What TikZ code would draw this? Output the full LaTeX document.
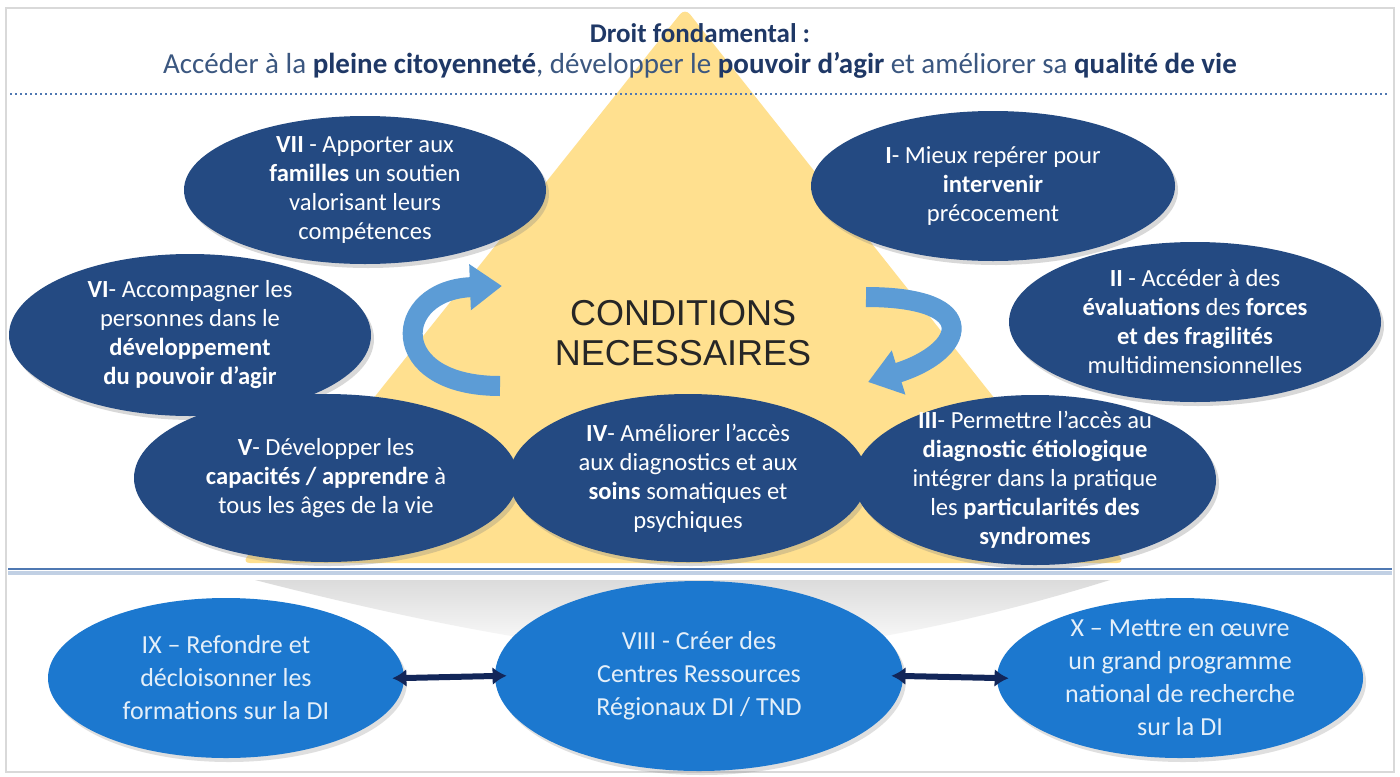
\documentclass[tikz,border=0pt]{standalone}
\usepackage{fontspec}
\setmainfont{Carlito}
\newfontfamily\condfont{Liberation Sans}
\usetikzlibrary{arrows.meta,shapes.geometric,shadows}
\definecolor{TitleClr}{rgb}{0.12,0.22,0.4}
\definecolor{SubClr}{rgb}{0.23,0.34,0.5}
\definecolor{NavyClr}{rgb}{0.14,0.29,0.51}
\definecolor{BlueClr}{rgb}{0.11,0.47,0.81}
\definecolor{ArrowClr}{rgb}{0.36,0.61,0.84}
\definecolor{TriClr}{rgb}{1,0.88,0.56}
\definecolor{RuleClr}{rgb}{0.31,0.47,0.7}
\definecolor{LinkClr}{rgb}{0.07,0.15,0.35}
\newcommand{\fort}[1]{\textbf{\color{TitleClr}#1}}

\begin{document}
\begin{tikzpicture}[x=0.5pt,y=-0.5pt,
  bulle/.style={ellipse,fill=NavyClr,inner sep=0pt,
    drop shadow={shadow xshift=1.5pt,shadow yshift=-2pt,opacity=.3}},
  bullebas/.style={ellipse,fill=BlueClr,inner sep=0pt,
    drop shadow={shadow xshift=1.5pt,shadow yshift=-2pt,opacity=.25}},
  txt/.style={text=white,align=center,font=\fontsize{12.3}{14.5}\selectfont},
  txtbas/.style={text=white!88!BlueClr,align=center,font=\fontsize{13}{16.5}\selectfont},
  tourne/.style={draw=ArrowClr,line width=10pt,-{Triangle[length=16pt,width=22pt]}},
  lien/.style={draw=LinkClr,line width=3pt,{Latex[length=7pt,width=9pt]}-{Latex[length=7pt,width=9pt]},
    shorten <=-6pt,shorten >=-6pt}]
\useasboundingbox (0,0) rectangle (1400,776);
\fill[white] (0,0) rectangle (1400,776);

\fill[TriClr,rounded corners=4pt] (685,8) -- (1125,563) -- (242,563) -- cycle;
\shade[top color=gray!28,bottom color=white] (255,580) -- (1110,580)
  .. controls (950,630) and (800,655) .. (700,655)
  .. controls (600,655) and (450,630) .. (255,580) -- cycle;

\draw[gray!30,line width=1.2pt] (6,8) rectangle (1394,772);

\node[font=\fontsize{13.5}{15}\selectfont\bfseries,text=TitleClr] (titre) at (700,33) {Droit fondamental :};
\node[font=\fontsize{14.5}{17}\selectfont,text=SubClr] (droit) at (700,65)
  {Accéder à la \fort{pleine citoyenneté}, développer le \fort{pouvoir d’agir} et améliorer sa \fort{qualité de vie}};
\draw[RuleClr,line width=1.3pt,dash pattern=on 1.2pt off 1.3pt] (10,94) -- (1388,94);

\draw[RuleClr!35,line width=2pt] (8,573) -- (1392,573);
\draw[RuleClr,line width=1.2pt] (8,569) -- (1392,569);

\coordinate (gq) at (500,386);
\coordinate (gt) at (502,286);
\draw[tourne] (gq) .. controls (385,386) and (392,290) .. (gt);
\coordinate (dq) at (866,297);
\coordinate (dt) at (868,382);
\draw[tourne] (dq) .. controls (985,297) and (965,352) .. (dt);

\node[font=\condfont\fontsize{18}{20}\selectfont,text=black!85,align=center] (cond) at (683,333)
  {CONDITIONS\\NECESSAIRES};

\node[bulle,minimum width=181pt,minimum height=74pt] (e7) at (365,190) {};
\node[txt] (t7) at (e7) {\textbf{VII} - Apporter aux\\\textbf{familles} un soutien\\valorisant leurs\\compétences};
\node[bulle,minimum width=181pt,minimum height=81pt] (e6) at (190,335) {};
\node[txt] (t6) at (e6) {\textbf{VI}- Accompagner les\\personnes dans le\\\textbf{développement}\\\textbf{du pouvoir d’agir}};
\node[bulle,minimum width=192pt,minimum height=84pt] (e5) at (326,478) {};
\node[txt] (t5) at (e5) {\textbf{V}- Développer les\\\textbf{capacités / apprendre} à\\tous les âges de la vie};
\node[bulle,minimum width=179pt,minimum height=84pt] (e4) at (688,478) {};
\node[txt] (t4) at (e4) {\textbf{IV}- Améliorer l’accès\\aux diagnostics et aux\\\textbf{soins} somatiques et\\psychiques};
\node[bulle,minimum width=182pt,minimum height=75pt] (e1) at (993,186) {};
\node[txt] (t1) at (e1) {\textbf{I}- Mieux repérer pour\\\textbf{intervenir}\\précocement};
\node[bulle,minimum width=186pt,minimum height=80pt] (e2) at (1195,322) {};
\node[txt] (t2) at (e2) {\textbf{II} - Accéder à des\\\textbf{évaluations} des \textbf{forces}\\\textbf{et des fragilités}\\multidimensionnelles};
\node[bulle,minimum width=181pt,minimum height=85pt] (e3) at (1035,480) {};
\node[txt] (t3) at (e3) {\textbf{III}- Permettre l’accès au\\\textbf{diagnostic étiologique}\\intégrer dans la pratique\\les \textbf{particularités des}\\\textbf{syndromes}};

\node[bullebas,minimum width=178pt,minimum height=80pt] (e9) at (226,678) {};
\node[txtbas] (t9) at (e9) {IX – Refondre et\\décloisonner les\\formations sur la DI};
\node[bullebas,minimum width=204pt,minimum height=95pt] (e8) at (699,676) {};
\node[txtbas] (t8) at (e8) {VIII - Créer des\\Centres Ressources\\Régionaux DI / TND};
\node[bullebas,minimum width=183pt,minimum height=80pt] (e10) at (1180,678) {};
\node[txtbas] (t10) at (e10) {X – Mettre en œuvre\\un grand programme\\national de recherche\\sur la DI};

\draw[lien] (e9.east) -- (e8.west);
\draw[lien] (e8.east) -- (e10.west);

\end{tikzpicture}
\end{document}
